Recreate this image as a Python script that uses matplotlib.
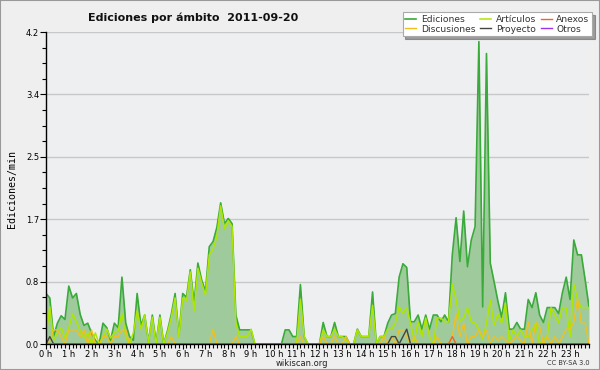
import matplotlib
matplotlib.use("Agg")
import matplotlib.pyplot as plt
from matplotlib.ticker import MultipleLocator, FixedLocator
from matplotlib.patches import Rectangle
import numpy as np

# 10-minute samples over the day (hours)
hours = np.arange(144) / 6.0

ediciones = [
    0.68, 0.62, 0.10, 0.28, 0.38, 0.33, 0.78, 0.62, 0.68, 0.40, 0.25, 0.28,
    0.15, 0.05, 0.00, 0.28, 0.22, 0.05, 0.28, 0.22, 0.90, 0.28, 0.10, 0.05,
    0.68, 0.25, 0.39, 0.03, 0.39, 0.02, 0.39, 0.00, 0.18, 0.40, 0.68, 0.12,
    0.68, 0.63, 1.00, 0.55, 1.09, 0.86, 0.71, 1.31, 1.38, 1.57, 1.90, 1.62,
    1.69, 1.62, 0.39, 0.19, 0.19, 0.19, 0.19, 0.00, 0.00, 0.00, 0.00, 0.00,
    0.00, 0.00, 0.00, 0.19, 0.19, 0.10, 0.10, 0.80, 0.10, 0.00, 0.00, 0.00,
    0.00, 0.29, 0.10, 0.10, 0.29, 0.10, 0.10, 0.10, 0.00, 0.00, 0.20, 0.10,
    0.10, 0.10, 0.70, 0.00, 0.10, 0.10, 0.28, 0.39, 0.41, 0.90, 1.08, 1.03,
    0.30, 0.30, 0.39, 0.20, 0.39, 0.20, 0.39, 0.39, 0.30, 0.39, 0.30, 1.20,
    1.70, 1.11, 1.79, 1.04, 1.40, 1.58, 4.07, 0.50, 3.91, 1.09, 0.84, 0.58,
    0.36, 0.69, 0.20, 0.20, 0.29, 0.20, 0.20, 0.60, 0.49, 0.69, 0.39, 0.29,
    0.49, 0.49, 0.49, 0.41, 0.69, 0.90, 0.60, 1.40, 1.20, 1.20, 0.86, 0.50,
]

articulos = [
    0.10, 0.50, 0.05, 0.15, 0.22, 0.08, 0.22, 0.40, 0.30, 0.18, 0.08, 0.15,
    0.00, 0.15, 0.00, 0.08, 0.20, 0.08, 0.15, 0.18, 0.41, 0.10, 0.00, 0.15,
    0.45, 0.20, 0.39, 0.02, 0.36, 0.00, 0.36, 0.00, 0.15, 0.36, 0.62, 0.10,
    0.62, 0.58, 0.97, 0.45, 1.02, 0.82, 0.66, 1.20, 1.28, 1.45, 1.86, 1.55,
    1.66, 1.58, 0.28, 0.10, 0.10, 0.10, 0.20, 0.00, 0.00, 0.00, 0.00, 0.00,
    0.00, 0.00, 0.00, 0.00, 0.00, 0.00, 0.00, 0.60, 0.10, 0.00, 0.00, 0.00,
    0.00, 0.19, 0.10, 0.10, 0.20, 0.10, 0.10, 0.05, 0.00, 0.00, 0.19, 0.10,
    0.10, 0.10, 0.52, 0.00, 0.10, 0.10, 0.20, 0.20, 0.28, 0.50, 0.41, 0.49,
    0.28, 0.05, 0.30, 0.10, 0.35, 0.10, 0.00, 0.35, 0.35, 0.30, 0.30, 0.80,
    0.60, 0.30, 0.35, 0.49, 0.30, 0.28, 0.20, 0.06, 0.28, 0.59, 0.25, 0.40,
    0.28, 0.55, 0.04, 0.19, 0.10, 0.19, 0.10, 0.10, 0.19, 0.28, 0.00, 0.05,
    0.10, 0.49, 0.39, 0.29, 0.49, 0.49, 0.10, 0.81, 0.59, 0.49, 0.49, 0.49,
]

discusiones = [
    0.00, 0.05, 0.19, 0.19, 0.10, 0.00, 0.19, 0.19, 0.19, 0.10, 0.19, 0.00,
    0.19, 0.00, 0.00, 0.10, 0.10, 0.00, 0.10, 0.10, 0.19, 0.19, 0.00, 0.00,
    0.00, 0.00, 0.00, 0.00, 0.00, 0.00, 0.00, 0.00, 0.00, 0.10, 0.00, 0.00,
    0.00, 0.00, 0.00, 0.00, 0.00, 0.00, 0.00, 0.00, 0.20, 0.00, 0.00, 0.00,
    0.00, 0.00, 0.10, 0.00, 0.00, 0.00, 0.00, 0.00, 0.00, 0.00, 0.00, 0.00,
    0.00, 0.00, 0.00, 0.00, 0.00, 0.00, 0.00, 0.10, 0.00, 0.00, 0.00, 0.00,
    0.00, 0.10, 0.00, 0.00, 0.10, 0.00, 0.00, 0.10, 0.00, 0.00, 0.00, 0.00,
    0.00, 0.00, 0.00, 0.00, 0.00, 0.10, 0.00, 0.10, 0.00, 0.19, 0.19, 0.10,
    0.00, 0.10, 0.00, 0.00, 0.00, 0.00, 0.00, 0.10, 0.00, 0.00, 0.00, 0.10,
    0.40, 0.10, 0.28, 0.00, 0.10, 0.10, 0.19, 0.10, 0.19, 0.00, 0.10, 0.05,
    0.10, 0.05, 0.00, 0.05, 0.10, 0.05, 0.00, 0.30, 0.00, 0.29, 0.23, 0.00,
    0.10, 0.00, 0.10, 0.00, 0.10, 0.20, 0.20, 0.30, 0.61, 0.28, 0.28, 0.00,
]

proyecto = [0.0] * 144
proyecto[1] = 0.10
proyecto[91] = 0.10
proyecto[92] = 0.10
proyecto[94] = 0.10
proyecto[95] = 0.20

anexos = [0.0] * 144
anexos[107] = 0.10

otros = [0.0] * 144

hour_labels = [f"{h} h" for h in range(24)]
y_ticks = [0.0, 0.84, 1.68, 2.52, 3.36, 4.2]
y_tick_labels = ["0.0", "0.8", "1.7", "2.5", "3.4", "4.2"]

BG = "#efefef"
fig = plt.figure(figsize=(6.0, 3.7), dpi=100, facecolor=BG)
ax = fig.add_axes([46 / 600, 26 / 370, 543 / 600, 312 / 370])
ax.set_facecolor("#eeeff1")

ax.fill_between(hours, ediciones, 0, color="#9fcb9c", linewidth=0, zorder=1)
l_ed, = ax.plot(hours, ediciones, color="#3aaa3a", lw=1.2, zorder=3, label="Ediciones")
l_ar, = ax.plot(hours, articulos, color="#aee600", lw=1.1, zorder=3.1, label="Artículos")
l_di, = ax.plot(hours, discusiones, color="#f0c020", lw=1.0, zorder=3.2, label="Discusiones")
l_pr, = ax.plot(hours, proyecto, color="#444444", lw=1.0, zorder=3.3, label="Proyecto")
l_an, = ax.plot(hours, anexos, color="#ee6622", lw=1.0, zorder=3.4, label="Anexos")
l_ot, = ax.plot(hours, otros, color="#9933ee", lw=1.0, zorder=0.5, label="Otros")

ax.set_xlim(0, 143 / 6)
ax.set_ylim(0, 4.2)

for s in ["top", "right"]:
    ax.spines[s].set_visible(False)
for s in ["left", "bottom"]:
    ax.spines[s].set_color("black")
    ax.spines[s].set_linewidth(1.0)
    ax.spines[s].set_zorder(5)

ax.xaxis.set_major_locator(FixedLocator(list(range(24))))
ax.set_xticklabels(hour_labels)
ax.xaxis.set_minor_locator(MultipleLocator(1 / 6))
ax.yaxis.set_major_locator(FixedLocator(y_ticks))
ax.set_yticklabels(y_tick_labels)
ax.yaxis.set_minor_locator(MultipleLocator(0.21))
ax.tick_params(axis="both", which="both", direction="out", color="black", width=0.8)
ax.tick_params(axis="x", which="major", length=3.5, labelsize=6, pad=0.5)
ax.tick_params(axis="x", which="minor", length=3)
ax.tick_params(axis="y", which="major", length=4, labelsize=6, pad=1)
ax.tick_params(axis="y", which="minor", length=3)

ax.grid(axis="y", which="major", color="#c8c8c8", lw=1.0, zorder=0)
ax.set_axisbelow(True)

fig.text(88 / 600, 1 - 18 / 370, "Ediciones por ámbito  2011-09-20", fontsize=8,
         fontweight="bold", ha="left", va="center", color="#111111")
fig.text(12 / 600, 1 - 189 / 370, "Ediciones/min", fontsize=7.2, family="DejaVu Sans Mono",
         rotation=90, ha="center", va="center")
fig.text(302 / 600, 1 - 363 / 370, "wikiscan.org", fontsize=6, ha="center", va="center",
         color="#222222")
fig.text(590 / 600, 1 - 363 / 370, "CC BY-SA 3.0", fontsize=4.8, ha="right", va="center",
         color="#333333")

leg = fig.legend([l_ed, l_di, l_ar, l_pr, l_an, l_ot],
                 ["Ediciones", "Discusiones", "Artículos", "Proyecto", "Anexos", "Otros"],
                 ncol=3, loc="upper right", bbox_to_anchor=(592 / 600, 1 - 12 / 370),
                 fontsize=6.6, frameon=True, fancybox=False, shadow=True,
                 handlelength=1.2, handletextpad=0.5, columnspacing=0.5,
                 labelspacing=0.1, borderpad=0.3, borderaxespad=0)
for t in leg.get_texts():
    t.set_color("#333333")
fr = leg.get_frame()
fr.set_facecolor("white")
fr.set_edgecolor("#aaaaaa")
fr.set_linewidth(0.8)
fr.set_alpha(1)
leg.set_zorder(10)

fig.patches.append(Rectangle((0, 0), 1, 1, transform=fig.transFigure, fill=False,
                             edgecolor="#999999", lw=1.5))

fig.savefig("out.png", dpi=100, facecolor=BG)
